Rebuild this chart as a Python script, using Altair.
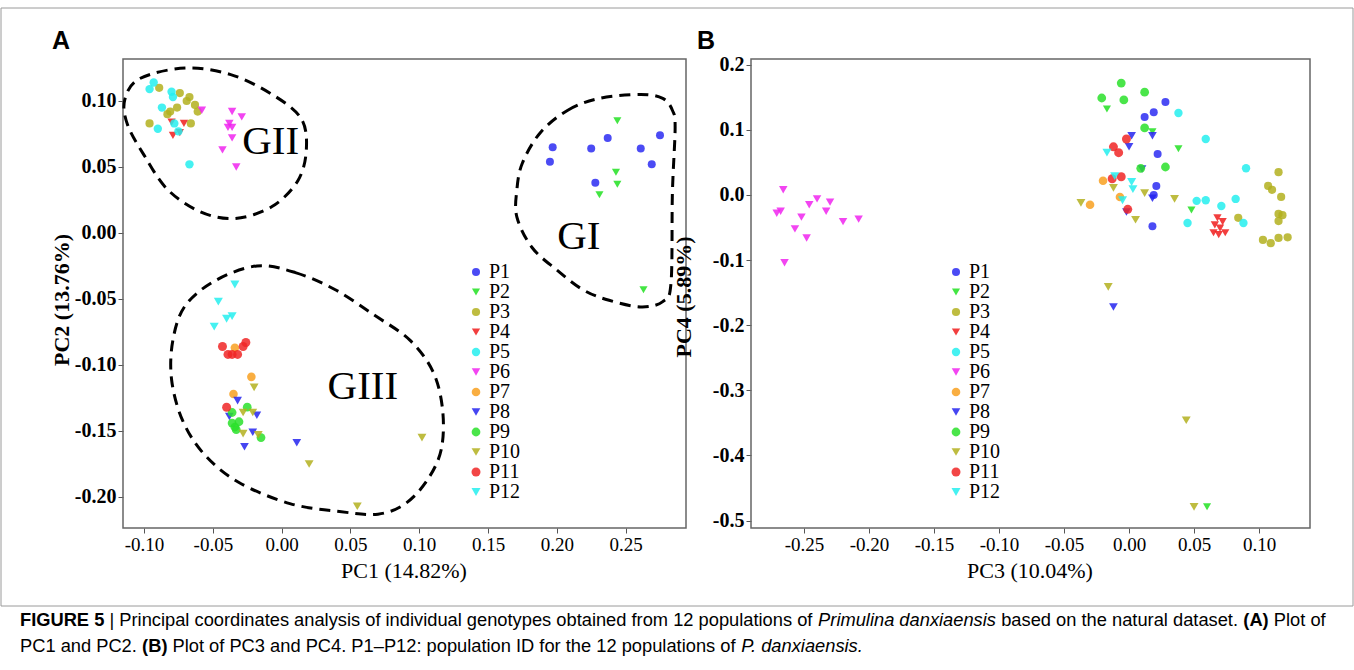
import altair as alt
import pandas as pd

# ---------------- categories / styles ----------------
POPS = ["P1", "P2", "P3", "P4", "P5", "P6", "P7", "P8", "P9", "P10", "P11", "P12"]
COLORS = ["#2b2bf2", "#22e022", "#b3b01f", "#f01c1c", "#24eeee", "#f024ee",
          "#f8a020", "#2424ee", "#2ae02a", "#b3b01f", "#f02626", "#24eeee"]
SHAPES = ["circle", "triangle-down"] * 6
SIZES = [64, 82] * 6

A_X_TICKS = [-0.10, -0.05, 0.00, 0.05, 0.10, 0.15, 0.20, 0.25]
A_Y_TICKS = [-0.20, -0.15, -0.10, -0.05, 0.00, 0.05, 0.10]
B_X_TICKS = [-0.25, -0.20, -0.15, -0.10, -0.05, 0.00, 0.05, 0.10]
B_Y_TICKS = [-0.5, -0.4, -0.3, -0.2, -0.1, 0.0, 0.1, 0.2]

# ---------------- Panel A: PC1 vs PC2 ----------------
A_P1 = [(0.197, 0.065), (0.195, 0.054), (0.225, 0.064), (0.237, 0.072), (0.261, 0.064),
        (0.269, 0.052), (0.275, 0.074), (0.228, 0.038)]
A_P2 = [(0.244, 0.085), (0.243, 0.046), (0.244, 0.037), (0.231, 0.029), (0.263, -0.043)]
A_P3 = [(-0.089, 0.110), (-0.074, 0.106), (-0.067, 0.103), (-0.069, 0.100), (-0.063, 0.097),
        (-0.061, 0.092), (-0.076, 0.095), (-0.081, 0.092), (-0.083, 0.090), (-0.096, 0.083),
        (-0.066, 0.083)]
A_P4 = [(-0.080, 0.084), (-0.071, 0.083), (-0.079, 0.074), (-0.074, 0.076)]
A_P5 = [(-0.093, 0.114), (-0.096, 0.109), (-0.080, 0.107), (-0.079, 0.103), (-0.087, 0.095),
        (-0.090, 0.079), (-0.078, 0.083), (-0.075, 0.077), (-0.067, 0.052)]
A_P6 = [(-0.058, 0.093), (-0.036, 0.092), (-0.029, 0.088), (-0.038, 0.083), (-0.036, 0.080),
        (-0.039, 0.080), (-0.036, 0.072), (-0.043, 0.063), (-0.033, 0.050)]
A_P7 = [(-0.034, -0.087), (-0.022, -0.109), (-0.035, -0.122)]
A_P8 = [(-0.032, -0.127), (-0.038, -0.139), (-0.018, -0.138), (-0.021, -0.151), (-0.027, -0.162),
        (0.011, -0.159)]
A_P9 = [(-0.025, -0.132), (-0.036, -0.136), (-0.036, -0.144), (-0.031, -0.143), (-0.034, -0.147),
        (-0.033, -0.149), (-0.015, -0.155)]
A_P10 = [(-0.020, -0.117), (-0.028, -0.136), (-0.021, -0.136), (-0.028, -0.152), (-0.017, -0.153),
         (0.102, -0.155), (0.020, -0.175), (0.055, -0.207)]
A_P11 = [(-0.043, -0.086), (-0.039, -0.092), (-0.036, -0.092), (-0.032, -0.092), (-0.028, -0.086),
         (-0.026, -0.083), (-0.040, -0.132)]
A_P12 = [(-0.034, -0.039), (-0.046, -0.052), (-0.040, -0.065), (-0.036, -0.063), (-0.049, -0.071)]

# group outlines (dashed), traced in PC1/PC2 units
GI_OUTLINE = [(0.188, 0.076), (0.208, 0.093), (0.231, 0.102), (0.261, 0.105), (0.277, 0.102),
              (0.284, 0.093), (0.286, 0.080), (0.284, 0.030), (0.283, -0.038), (0.277, -0.052),
              (0.261, -0.056), (0.238, -0.051), (0.219, -0.043), (0.200, -0.028), (0.182, -0.011),
              (0.171, 0.012), (0.171, 0.033), (0.175, 0.053)]
GII_OUTLINE = [(-0.114, 0.101), (-0.103, 0.117), (-0.070, 0.125), (-0.037, 0.120), (-0.007, 0.105),
               (0.014, 0.087), (0.018, 0.064), (0.012, 0.040), (-0.007, 0.020), (-0.034, 0.011),
               (-0.059, 0.016), (-0.083, 0.033), (-0.100, 0.059), (-0.112, 0.082)]
GIII_OUTLINE = [(-0.018, -0.025), (0.010, -0.030), (0.039, -0.043), (0.067, -0.062), (0.093, -0.081),
                (0.110, -0.105), (0.117, -0.134), (0.116, -0.164), (0.106, -0.187), (0.090, -0.205),
                (0.070, -0.213), (0.042, -0.211), (0.006, -0.205), (-0.031, -0.189), (-0.056, -0.168),
                (-0.072, -0.142), (-0.080, -0.111), (-0.079, -0.081), (-0.070, -0.055), (-0.048, -0.036)]
GROUP_NAMES = ["GI", "GII", "GIII"]
GROUP_LABEL_X = [0.216, -0.008, 0.059]
GROUP_LABEL_Y = [-0.003, 0.069, -0.117]

# ---------------- Panel B: PC3 vs PC4 ----------------
B_P1 = [(0.028, 0.143), (0.012, 0.120), (0.019, 0.127), (0.022, 0.063), (0.021, 0.014),
        (0.019, 0.000), (0.018, -0.048)]
B_P2 = [(-0.017, 0.132), (0.018, 0.097), (0.038, 0.071), (0.048, -0.023), (0.060, -0.479)]
B_P3 = [(0.115, 0.035), (0.107, 0.014), (0.110, 0.008), (0.117, -0.003), (0.115, -0.029),
        (0.118, -0.031), (0.115, -0.040), (0.084, -0.035), (0.103, -0.069), (0.109, -0.074),
        (0.115, -0.066), (0.122, -0.065)]
B_P4 = [(0.068, -0.035), (0.072, -0.041), (0.066, -0.046), (0.070, -0.051), (0.065, -0.058),
        (0.069, -0.061), (0.074, -0.058)]
B_P5 = [(0.038, 0.126), (0.059, 0.086), (0.090, 0.041), (0.082, -0.006), (0.071, -0.017),
        (0.059, -0.008), (0.052, -0.009), (0.045, -0.043), (0.088, -0.043)]
B_P6 = [(-0.271, -0.028), (-0.268, -0.025), (-0.266, 0.008), (-0.257, -0.052), (-0.252, -0.034),
        (-0.248, -0.066), (-0.246, -0.015), (-0.240, -0.006), (-0.233, -0.025), (-0.230, -0.011),
        (-0.220, -0.041), (-0.208, -0.037), (-0.265, -0.104)]
B_P7 = [(-0.020, 0.022), (-0.007, -0.003), (-0.030, -0.015)]
B_P8 = [(0.002, 0.091), (0.000, 0.074), (0.018, 0.091), (0.010, 0.040), (0.018, -0.005),
        (-0.002, -0.026), (-0.012, -0.172)]
B_P9 = [(-0.006, 0.172), (-0.021, 0.149), (-0.004, 0.146), (0.012, 0.158), (0.012, 0.103),
        (0.009, 0.041), (0.028, 0.043)]
B_P10 = [(-0.037, -0.012), (-0.012, 0.011), (0.012, 0.003), (0.035, -0.006), (0.005, -0.038),
         (-0.016, -0.141), (0.044, -0.346), (0.050, -0.479)]
B_P11 = [(-0.002, 0.086), (-0.012, 0.074), (-0.008, 0.065), (-0.013, 0.025), (-0.006, 0.028),
         (-0.001, -0.022)]
B_P12 = [(-0.017, 0.065), (-0.011, 0.029), (0.002, 0.020), (0.003, 0.009), (-0.005, -0.008)]

A_DATA = [A_P1, A_P2, A_P3, A_P4, A_P5, A_P6, A_P7, A_P8, A_P9, A_P10, A_P11, A_P12]
B_DATA = [B_P1, B_P2, B_P3, B_P4, B_P5, B_P6, B_P7, B_P8, B_P9, B_P10, B_P11, B_P12]

CAPTION_LINE1 = [("FIGURE 5", "bold", "normal"),
                 ("| Principal coordinates analysis of individual genotypes obtained from 12 populations of",
                  "normal", "normal"),
                 ("Primulina danxiaensis", "normal", "italic"),
                 ("based on the natural dataset.", "normal", "normal"),
                 ("(A)", "bold", "normal"),
                 ("Plot of", "normal", "normal")]
CAPTION_LINE2 = [("PC1 and PC2.", "normal", "normal"),
                 ("(B)", "bold", "normal"),
                 ("Plot of PC3 and PC4. P1\u2013P12: population ID for the 12 populations of",
                  "normal", "normal"),
                 ("P. danxiaensis.", "normal", "italic")]

# ---------------- layout ----------------
W, H = 1354, 670
SERIF = "Liberation Serif"
SANS = "Liberation Sans"
CAP_SIZE = 18.3

A_LEFT, A_RIGHT, TOP, BOTTOM = 123, 686, 59, 528
B_LEFT, B_RIGHT = 751, 1310

xsA = alt.Scale(domain=[-0.1153, 0.2939], range=[A_LEFT, A_RIGHT], nice=False, zero=False)
ysA = alt.Scale(domain=[-0.2235, 0.1318], range=[BOTTOM, TOP], nice=False, zero=False)
xsB = alt.Scale(domain=[-0.2908, 0.1392], range=[B_LEFT, B_RIGHT], nice=False, zero=False)
ysB = alt.Scale(domain=[-0.5115, 0.2089], range=[BOTTOM, TOP], nice=False, zero=False)

color_scale = alt.Scale(domain=POPS, range=COLORS)
shape_scale = alt.Scale(domain=POPS, range=SHAPES)
size_scale = alt.Scale(domain=POPS, range=SIZES)

# Arial / Liberation Sans advance widths (1/1000 em) for laying caption pieces side by side
_REG = {" ": 278, "|": 260, "(": 333, ")": 333, ".": 278, ",": 278, ":": 278, "\u2013": 556, "%": 889}
_REG.update({d: 556 for d in "0123456789"})
_REG.update(dict(zip("ABCDEFGHIJKLMNOPQRSTUVWXYZ",
                     [667, 667, 722, 722, 667, 611, 778, 722, 278, 500, 667, 556, 833, 722, 778, 667,
                      778, 722, 667, 611, 722, 667, 944, 667, 667, 611])))
_REG.update(dict(zip("abcdefghijklmnopqrstuvwxyz",
                     [556, 556, 500, 556, 556, 278, 556, 556, 222, 222, 500, 222, 833, 556, 556, 556,
                      556, 333, 500, 278, 556, 500, 722, 500, 500, 500])))
_BOLD = {"A": 722, "B": 722, "R": 722, "U": 722, "|": 280}


def text_width(s, size, weight):
    total = 0
    for ch in s:
        if weight == "bold" and ch in _BOLD:
            total += _BOLD[ch]
        else:
            total += _REG.get(ch, 556)
    return total * size / 1000.0


def make_axis(values, orient, offset, fmt, bold, size):
    return alt.Axis(
        values=values, orient=orient, offset=offset, domain=False, grid=False,
        ticks=True, tickSize=5, tickColor="#555555", tickWidth=1,
        labelExpr="(datum.value < -0.0001 ? '-' : '') + format(abs(datum.value), '" + fmt + "')",
        labelFont=SERIF, labelFontSize=size, labelFontWeight="bold" if bold else "normal",
        labelColor="black", labelPadding=2, labelFlush=False, labelOverlap=False, title="",
    )


def to_frame(groups):
    rows = []
    for pop, pts in zip(POPS, groups):
        for x, y in pts:
            rows.append({"pop": pop, "x": x, "y": y})
    return pd.DataFrame(rows)


def scatter(df, xs, ys, xaxis, yaxis):
    return alt.Chart(df).mark_point(filled=True, opacity=0.85, strokeWidth=0).encode(
        x=alt.X("x:Q", scale=xs, axis=xaxis),
        y=alt.Y("y:Q", scale=ys, axis=yaxis),
        color=alt.Color("pop:N", scale=color_scale, legend=None),
        shape=alt.Shape("pop:N", scale=shape_scale, legend=None),
        size=alt.Size("pop:N", scale=size_scale, legend=None),
    )


def fixed_text(text, x, y, size, font, weight="normal", style="normal", align="left", angle=0):
    return alt.Chart(pd.DataFrame({"t": [text]})).mark_text(
        align=align, baseline="middle", font=font, fontSize=size, fontWeight=weight,
        fontStyle=style, angle=angle, color="black",
    ).encode(x=alt.value(x), y=alt.value(y), text="t:N")


def caption_line(pieces, x0, y):
    out = []
    x = x0
    for text, weight, style in pieces:
        out.append(fixed_text(text, round(x, 1), y, CAP_SIZE, SANS, weight=weight, style=style))
        x += text_width(text + " ", CAP_SIZE, weight)
    return out


def frame(x1, x2, y1, y2, color, width):
    return alt.Chart(pd.DataFrame({"k": [0]})).mark_rect(
        fillOpacity=0, stroke=color, strokeWidth=width
    ).encode(x=alt.value(x1), x2=alt.value(x2), y=alt.value(y1), y2=alt.value(y2))


def legend(xsym, xtxt):
    leg = pd.DataFrame({"pop": POPS, "row": list(range(len(POPS)))})
    ys = alt.Scale(domain=[0, 11], range=[272, 492], nice=False, zero=False)
    sym = alt.Chart(leg).mark_point(filled=True, opacity=0.85, strokeWidth=0).encode(
        x=alt.value(xsym),
        y=alt.Y("row:Q", scale=ys, axis=None),
        color=alt.Color("pop:N", scale=color_scale, legend=None),
        shape=alt.Shape("pop:N", scale=shape_scale, legend=None),
        size=alt.Size("pop:N", scale=size_scale, legend=None),
    )
    txt = alt.Chart(leg).mark_text(align="left", baseline="middle", font=SERIF, fontSize=20,
                                   color="black").encode(
        x=alt.value(xtxt), y=alt.Y("row:Q", scale=ys, axis=None), text="pop:N")
    return [sym, txt]


# ---------- panel A ----------
dfA = to_frame(A_DATA)
out_rows = []
for name, pts in zip(GROUP_NAMES, [GI_OUTLINE, GII_OUTLINE, GIII_OUTLINE]):
    for i, (x, y) in enumerate(pts):
        out_rows.append({"grp": name, "i": i, "x": x, "y": y})
dfOut = pd.DataFrame(out_rows)

outlines = alt.Chart(dfOut).mark_line(
    interpolate="cardinal-closed", strokeDash=[11, 7], strokeWidth=3, color="black"
).encode(
    x=alt.X("x:Q", scale=xsA, axis=None),
    y=alt.Y("y:Q", scale=ysA, axis=None),
    detail="grp:N",
    order="i:Q",
)
group_labels = alt.Chart(pd.DataFrame({"name": GROUP_NAMES, "x": GROUP_LABEL_X, "y": GROUP_LABEL_Y})).mark_text(
    font=SERIF, fontSize=41, color="black", baseline="middle", align="center"
).encode(
    x=alt.X("x:Q", scale=xsA, axis=None),
    y=alt.Y("y:Q", scale=ysA, axis=None),
    text="name:N",
)
pointsA = scatter(
    dfA, xsA, ysA,
    make_axis(A_X_TICKS, "bottom", -(H - BOTTOM), ".2f", False, 19),
    make_axis(A_Y_TICKS, "left", -A_LEFT, ".2f", True, 20),
)

# ---------- panel B ----------
dfB = to_frame(B_DATA)
pointsB = scatter(
    dfB, xsB, ysB,
    make_axis(B_X_TICKS, "bottom", -(H - BOTTOM), ".2f", False, 19),
    make_axis(B_Y_TICKS, "left", -B_LEFT, ".1f", True, 20),
)

texts = [
    fixed_text("A", 61, 41, 25, SANS, weight="bold", align="center"),
    fixed_text("B", 706, 41, 25, SANS, weight="bold", align="center"),
    fixed_text("PC1 (14.82%)", 404, 571, 22, SERIF, align="center"),
    fixed_text("PC3 (10.04%)", 1030, 571, 22, SERIF, align="center"),
    fixed_text("PC2 (13.76%)", 62, 300, 22, SERIF, weight="bold", align="center", angle=270),
    fixed_text("PC4 (5.89%)", 684, 297, 22, SERIF, weight="bold", align="center", angle=270),
]
texts += caption_line(CAPTION_LINE1, 20, 621)
texts += caption_line(CAPTION_LINE2, 20, 647)

chart = alt.layer(
    frame(1, 1353, 8, 606, "#9a9a9a", 1),
    frame(A_LEFT, A_RIGHT, TOP, BOTTOM, "#666666", 1.5),
    frame(B_LEFT, B_RIGHT, TOP, BOTTOM, "#666666", 1.5),
    outlines,
    pointsA,
    group_labels,
    pointsB,
    *legend(476, 489),
    *legend(956, 969),
    *texts,
).resolve_scale(
    x="independent", y="independent"
).properties(
    width=W, height=H, padding=0, autosize=alt.AutoSizeParams(type="none"),
    background="white",
).configure_view(strokeWidth=0)

chart.save("out.html", embed_options={"renderer": "svg", "actions": False})
